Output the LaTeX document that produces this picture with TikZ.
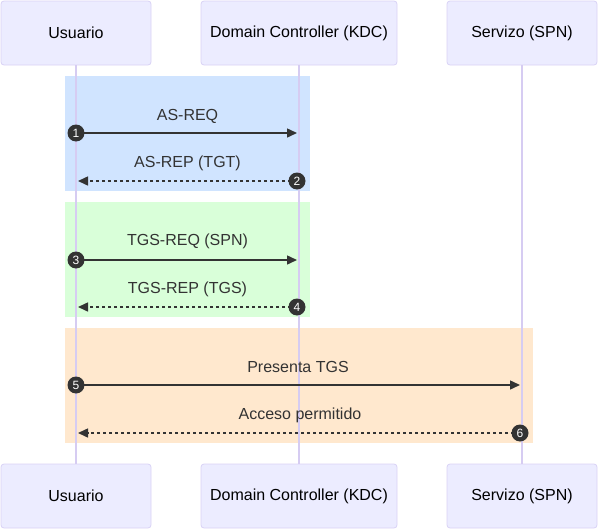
\documentclass[tikz,border=0pt]{standalone}
\usepackage{fontspec}
\setmainfont{Liberation Sans}
\usetikzlibrary{arrows.meta}
\definecolor{actfill}{HTML}{ECECFF}
\definecolor{actline}{HTML}{D9D2F5}
\definecolor{life}{HTML}{D6CCF2}
\definecolor{ink}{HTML}{333333}
\definecolor{bA}{HTML}{D0E4FF}
\definecolor{bB}{HTML}{D9FFD9}
\definecolor{bC}{HTML}{FFE8CE}
\tikzset{
  actor/.style={draw=actline, fill=actfill, rounded corners=3pt, minimum width=150pt, minimum height=64pt, inner sep=0pt, font=\fontsize{16}{19}\selectfont, text=black, line width=0.8pt},
  actorw/.style={actor, minimum width=196pt},
  lifel/.style={draw=life, line width=1.5pt},
  msg/.style={draw=ink, line width=1.5pt, -{Triangle[length=10pt,width=9pt]}},
  rmsg/.style={msg, dash pattern=on 3pt off 3pt},
  num/.style={circle, fill=ink, text=white, inner sep=0pt, minimum size=17pt, font=\fontsize{12}{13}\selectfont},
  lbl/.style={font=\fontsize{16}{19}\selectfont, text=ink, inner sep=0pt}
}
\begin{document}
\begin{tikzpicture}[x=1pt,y=-1pt]
\useasboundingbox (0,0) rectangle (598,530);
% boxes (background)
\fill[bA] (65,76) rectangle (310,191);
\fill[bB] (65,202) rectangle (310,317);
\fill[bC] (65,328) rectangle (533,443);
% actors
\node[actor] (u1) at (76,33) {Usuario};
\node[actorw] (d1) at (299,33) {Domain Controller (KDC)};
\node[actor] (s1) at (522,33) {Servizo (SPN)};
\node[actor] (u2) at (76,496) {Usuario};
\node[actorw] (d2) at (299,496) {Domain Controller (KDC)};
\node[actor] (s2) at (522,496) {Servizo (SPN)};
\draw[lifel] (u1.south) -- (u2.north);
\draw[lifel] (d1.south) -- (d2.north);
\draw[lifel] (s1.south) -- (s2.north);
% anchor coordinates
\coordinate (u133) at (76,133); \coordinate (d133) at (297,133);
\coordinate (u181) at (78,181); \coordinate (d181) at (297,181);
\coordinate (u260) at (76,260); \coordinate (d260) at (297,260);
\coordinate (u307) at (78,307); \coordinate (d307) at (297,307);
\coordinate (u385) at (76,385); \coordinate (s385) at (520,385);
\coordinate (u433) at (78,433); \coordinate (s433) at (520,433);
% messages
\draw[msg] (u133) -- (d133);
\node[lbl] (t1) at (187.5,116) {AS-REQ};
\draw[rmsg] (d181) -- (u181);
\node[lbl] (t2) at (187.5,163) {AS-REP (TGT)};
\draw[msg] (u260) -- (d260);
\node[lbl] (t3) at (187.5,241) {TGS-REQ (SPN)};
\draw[rmsg] (d307) -- (u307);
\node[lbl] (t4) at (187.5,289) {TGS-REP (TGS)};
\draw[msg] (u385) -- (s385);
\node[lbl] (t5) at (298,367) {Presenta TGS};
\draw[rmsg] (s433) -- (u433);
\node[lbl] (t6) at (300,415) {Acceso permitido};
% numbers
\node[num] (n1) at (76,133) {1};
\node[num] (n2) at (297,181) {2};
\node[num] (n3) at (76,260) {3};
\node[num] (n4) at (297,307) {4};
\node[num] (n5) at (76,385) {5};
\node[num] (n6) at (520,433) {6};
\end{tikzpicture}
\end{document}
